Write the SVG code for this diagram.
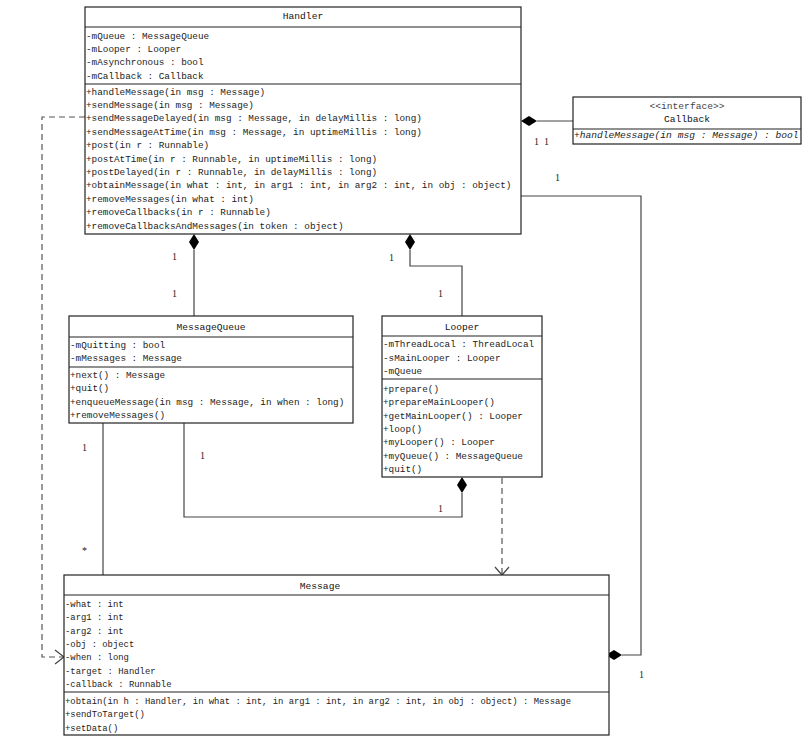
<svg xmlns="http://www.w3.org/2000/svg" width="809" height="752" viewBox="0 0 809 752">
<style>
text{font-family:"Liberation Mono","DejaVu Sans Mono",monospace;font-size:9.33px;fill:#222}
.t{text-anchor:middle;font-size:9.6px;fill:#111}
.box{fill:#fff;stroke:#222;stroke-width:1.2}
.sep{stroke:#222;stroke-width:1.2}
.ln{fill:none;stroke:#444;stroke-width:1.2}
.dash{fill:none;stroke:#555;stroke-width:1.2;stroke-dasharray:6,4}
.dia{fill:#000}
.lbl{font-family:"Liberation Serif",serif;font-size:10px;fill:#222}
.msg text{font-size:8.9px}
.msg .t{font-size:9.6px}
</style>
<g id="connectors">
<polygon class="dia" points="194,234 199,242 194,250 189,242"/>
<line class="ln" x1="194" y1="250" x2="194" y2="316"/>
<polygon class="dia" points="410,234 415,242 410,250 405,242"/>
<polyline class="ln" points="410,250 410,266 462,266 462,316"/>
<polygon class="dia" points="521,121 529,116 537,121 529,126"/>
<line class="ln" x1="537" y1="121" x2="573" y2="121"/>
<polyline class="ln" points="521,196 641,196 641,655 622,655"/>
<polygon class="dia" points="606,655 614,650 622,655 614,660"/>
<line class="ln" x1="103" y1="423" x2="103" y2="575"/>
<polyline class="ln" points="184,423 184,517 462,517 462,493"/>
<polygon class="dia" points="462,477 467,485 462,493 457,485"/>
<line class="dash" x1="502" y1="478" x2="502" y2="574"/>
<polyline class="ln" points="495,567 502,575 509,567"/>
<polyline class="dash" points="85,117 42,117 42,657 63,657"/>
<polyline class="ln" points="55,650 64,657 55,664"/>
<text class="lbl" x="172" y="260">1</text>
<text class="lbl" x="172" y="297">1</text>
<text class="lbl" x="389" y="261">1</text>
<text class="lbl" x="438" y="297">1</text>
<text class="lbl" x="534" y="145">1</text>
<text class="lbl" x="544" y="145">1</text>
<text class="lbl" x="555" y="181">1</text>
<text class="lbl" x="639" y="678">1</text>
<text class="lbl" x="82" y="451">1</text>
<text class="lbl" x="82" y="554">*</text>
<text class="lbl" x="200" y="459">1</text>
<text class="lbl" x="438" y="512">1</text>
</g>
<g id="Handler">
<rect class="box" x="85" y="7" width="436" height="227"/>
<line class="sep" x1="85" y1="27" x2="521" y2="27"/>
<line class="sep" x1="85" y1="84" x2="521" y2="84"/>
<text class="t" x="303" y="18.5">Handler</text>
<text x="86" y="38.5">-mQueue : MessageQueue</text>
<text x="86" y="51.9">-mLooper : Looper</text>
<text x="86" y="65.3">-mAsynchronous : bool</text>
<text x="86" y="78.7">-mCallback : Callback</text>
<text x="86" y="94.5">+handleMessage(in msg : Message)</text>
<text x="86" y="107.9">+sendMessage(in msg : Message)</text>
<text x="86" y="121.3">+sendMessageDelayed(in msg : Message, in delayMillis : long)</text>
<text x="86" y="134.7">+sendMessageAtTime(in msg : Message, in uptimeMillis : long)</text>
<text x="86" y="148.1">+post(in r : Runnable)</text>
<text x="86" y="161.5">+postAtTime(in r : Runnable, in uptimeMillis : long)</text>
<text x="86" y="174.9">+postDelayed(in r : Runnable, in delayMillis : long)</text>
<text x="86" y="188.3">+obtainMessage(in what : int, in arg1 : int, in arg2 : int, in obj : object)</text>
<text x="86" y="201.7">+removeMessages(in what : int)</text>
<text x="86" y="215.1">+removeCallbacks(in r : Runnable)</text>
<text x="86" y="228.5">+removeCallbacksAndMessages(in token : object)</text>
</g>
<g id="Callback">
<rect class="box" x="573" y="97" width="228" height="47"/>
<line class="sep" x1="573" y1="129" x2="801" y2="129"/>
<text class="t" x="687" y="108.5" style="fill:#444">&lt;&lt;interface&gt;&gt;</text>
<text class="t" x="687" y="121.5">Callback</text>
<text x="574" y="138" style="font-style:italic;font-size:9.6px">+handleMessage(in msg : Message) : bool</text>
</g>
<g id="MessageQueue">
<rect class="box" x="69" y="316" width="284" height="107"/>
<line class="sep" x1="69" y1="337" x2="353" y2="337"/>
<line class="sep" x1="69" y1="367" x2="353" y2="367"/>
<text class="t" x="211" y="329.5">MessageQueue</text>
<text x="70" y="347.5">-mQuitting : bool</text>
<text x="70" y="361">-mMessages : Message</text>
<text x="70" y="378">+next() : Message</text>
<text x="70" y="391.4">+quit()</text>
<text x="70" y="404.8">+enqueueMessage(in msg : Message, in when : long)</text>
<text x="70" y="418.2">+removeMessages()</text>
</g>
<g id="Looper">
<rect class="box" x="382" y="316" width="160" height="161"/>
<line class="sep" x1="382" y1="336" x2="542" y2="336"/>
<line class="sep" x1="382" y1="379" x2="542" y2="379"/>
<text class="t" x="462" y="329.5">Looper</text>
<text x="383" y="347">-mThreadLocal : ThreadLocal</text>
<text x="383" y="360.5">-sMainLooper : Looper</text>
<text x="383" y="374">-mQueue</text>
<text x="383" y="392">+prepare()</text>
<text x="383" y="405.3">+prepareMainLooper()</text>
<text x="383" y="418.7">+getMainLooper() : Looper</text>
<text x="383" y="432">+loop()</text>
<text x="383" y="445.3">+myLooper() : Looper</text>
<text x="383" y="458.7">+myQueue() : MessageQueue</text>
<text x="383" y="472">+quit()</text>
</g>
<g id="Message" class="msg">
<rect class="box" x="64" y="575" width="545" height="160"/>
<line class="sep" x1="64" y1="595" x2="609" y2="595"/>
<line class="sep" x1="64" y1="692" x2="609" y2="692"/>
<text class="t" x="320" y="588.5">Message</text>
<text x="65" y="607">-what : int</text>
<text x="65" y="620.3">-arg1 : int</text>
<text x="65" y="633.7">-arg2 : int</text>
<text x="65" y="647">-obj : object</text>
<text x="65" y="660.3">-when : long</text>
<text x="65" y="673.7">-target : Handler</text>
<text x="65" y="687">-callback : Runnable</text>
<text x="65" y="703.7">+obtain(in h : Handler, in what : int, in arg1 : int, in arg2 : int, in obj : object) : Message</text>
<text x="65" y="717">+sendToTarget()</text>
<text x="65" y="730.5">+setData()</text>
</g>
</svg>
